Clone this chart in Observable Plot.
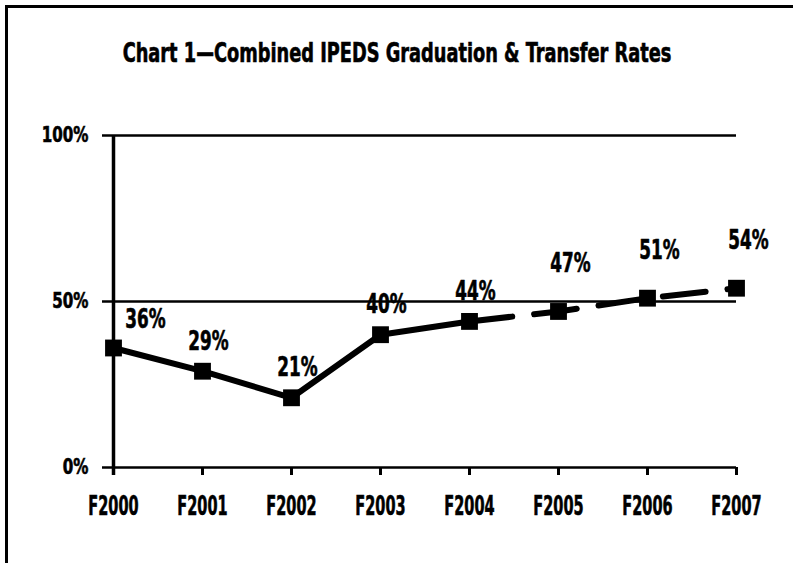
<!DOCTYPE html>
<html><head><meta charset="utf-8">
<script src="https://cdn.jsdelivr.net/npm/d3@7"></script>
<script src="https://cdn.jsdelivr.net/npm/@observablehq/plot@0.6"></script>
<style>
body{margin:0;background:#fff;}
#wrap{position:relative;width:793px;height:563px;overflow:hidden;color:#000;font-family:"DejaVu Sans","Liberation Sans",sans-serif;}
#frame{position:absolute;left:5px;top:5px;right:-10px;bottom:-10px;border-top:3px solid #000;border-left:3px solid #000;}
#title{position:absolute;top:38px;left:0;width:793px;text-align:center;}
#title span{display:inline-block;font-weight:bold;font-stretch:condensed;font-size:26px;transform:scaleX(0.76);transform-origin:50% 50%;white-space:nowrap;-webkit-text-stroke:0.6px #000;}
#chart{position:absolute;left:0;top:80px;}
</style></head><body>
<div id="wrap"><div id="frame"></div><div id="title"><span>Chart 1—Combined IPEDS Graduation &amp; Transfer Rates</span></div><div id="chart"></div></div>
<script>
const years = ["F2000","F2001","F2002","F2003","F2004","F2005","F2006","F2007"];
const rates = [36, 29, 21, 40, 44, 47, 51, 54];
const yTicks = [0, 50, 100];

const data = years.map((year, i) => ({year, rate: rates[i]}));
const actual = data.slice(0, 5);
const projected = data.slice(4);
const FONT = '"DejaVu Sans","Liberation Sans",sans-serif';
const heavy = {fontWeight: "bold", fill: "#000", stroke: "#000", strokeWidth: 0.6};
const pct = d => d.rate + "%";

const chart = Plot.plot({
  width: 793, height: 483,
  marginLeft: 112, marginRight: 57, marginTop: 55, marginBottom: 96,
  style: {background: "transparent", color: "#000", fontFamily: FONT, fontStretch: "condensed"},
  x: {type: "point", domain: years, padding: 0, axis: null},
  y: {domain: [0, 100], axis: null},
  marks: [
    Plot.ruleY(yTicks, {stroke: "#000", strokeWidth: 2.5, insetLeft: -10}),
    Plot.ruleX([years[0]], {y1: 100, y2: 0, stroke: "#000", strokeWidth: 3.5, insetBottom: -8}),
    Plot.axisX({tickSize: 8, strokeWidth: 3, tickPadding: 21, fontSize: 26, fontWeight: "bold", label: null, className: "xlab"}),
    Plot.axisY({ticks: yTicks, tickSize: 0, tickPadding: 24, tickFormat: d => d + "%", fontSize: 21, fontWeight: "bold", label: null, className: "ylab"}),
    Plot.line(actual, {x: "year", y: "rate", stroke: "#000", strokeWidth: 6}),
    Plot.line(projected, {x: "year", y: "rate", stroke: "#000", strokeWidth: 6, strokeDasharray: "43,22"}),
    Plot.dot(data, {x: "year", y: "rate", symbol: "square", r: 9.5, fill: "#000", stroke: "none"}),
    Plot.text(actual.slice(0, 1), {x: "year", y: "rate", text: pct, dx: 32, dy: -28, fontSize: 26, ...heavy, className: "plab"}),
    Plot.text(actual.slice(1), {x: "year", y: "rate", text: pct, dx: 6, dy: -30, fontSize: 26, ...heavy, className: "plab"}),
    Plot.text(data.slice(5), {x: "year", y: "rate", text: pct, dx: 12, dy: -48, fontSize: 26, ...heavy, className: "plab"})
  ]
});

// condense the heavy labels horizontally, like the reference's narrow type
function squeeze(sel, s) {
  d3.select(chart).selectAll(sel).each(function() {
    const t = this.getAttribute("transform") || "";
    this.setAttribute("transform", (t + ` scale(${s},1)`).trim());
  });
}
squeeze(".xlab text", 0.62);
squeeze(".ylab text", 0.8);
squeeze(".plab text", 0.72);
d3.select(chart).selectAll(".xlab text, .ylab text").attr("stroke", "#000").attr("stroke-width", 0.6);
document.getElementById("chart").appendChild(chart);
</script>
</body></html>
